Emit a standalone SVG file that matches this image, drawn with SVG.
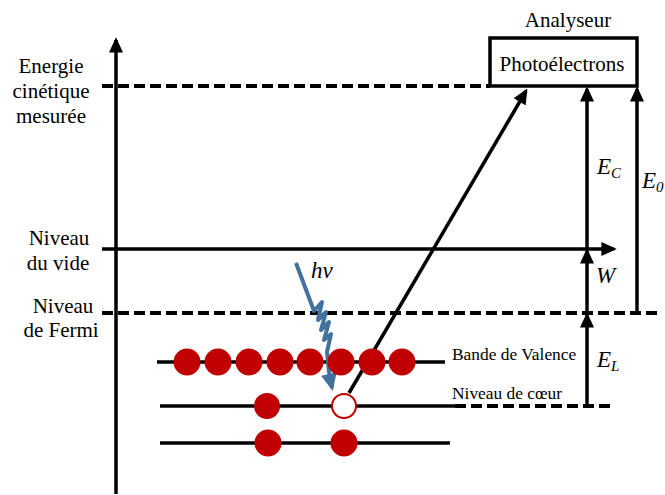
<svg xmlns="http://www.w3.org/2000/svg" width="665" height="495" viewBox="0 0 665 495">
<style>
text{font-family:"Liberation Serif","Times New Roman",serif;fill:#000}
.t{font-size:21px}
.s{font-size:17.4px}
.m{font-style:italic;font-size:23px}
.ms{font-size:15px}
.ln{stroke:#000;stroke-width:3.5;fill:none}
.da{stroke:#000;stroke-width:4;fill:none;stroke-dasharray:11 5}
.e{fill:#C00000}
</style>
<defs>
<marker id="ah" markerWidth="4.4" markerHeight="4" refX="3.6" refY="2" orient="auto" markerUnits="strokeWidth">
<path d="M0,0 L4.4,2 L0,4 z" fill="#000"/>
</marker>
<marker id="bh" markerWidth="4.4" markerHeight="4" refX="3.6" refY="2" orient="auto" markerUnits="strokeWidth">
<path d="M0,0 L4.4,2 L0,4 z" fill="#41719C"/>
</marker>
</defs>
<g id="levels">
<line class="da" x1="102" y1="86" x2="490" y2="86"/>
<line class="da" x1="102" y1="313" x2="658" y2="313"/>
<line class="ln" x1="157" y1="362" x2="445" y2="362"/>
<line class="ln" x1="160" y1="406" x2="455" y2="406"/>
<line class="da" x1="455" y1="406" x2="614" y2="406"/>
<line class="ln" x1="160" y1="443" x2="450" y2="443"/>
</g>
<g id="connectors">
<line class="ln" x1="116" y1="494" x2="116" y2="40" marker-end="url(#ah)"/>
<line class="ln" x1="102" y1="249" x2="614" y2="249" marker-end="url(#ah)"/>
<line class="ln" x1="349" y1="393" x2="526" y2="91" marker-end="url(#ah)"/>
<line class="ln" x1="587" y1="249" x2="587" y2="89" marker-end="url(#ah)"/>
<line class="ln" x1="587" y1="313" x2="587" y2="251" marker-end="url(#ah)"/>
<line class="ln" x1="587" y1="406" x2="587" y2="315" marker-end="url(#ah)"/>
<line class="ln" x1="637" y1="313" x2="637" y2="89" marker-end="url(#ah)"/>
<path d="M296,263 L314,311 L322,302 L318,320 L326,312 L321,330 L329,322 L324,340 L331,334 L327,352 Q328,370 332,388" stroke="#41719C" stroke-width="4" fill="none" stroke-linejoin="round" marker-end="url(#bh)"/>
</g>
<g id="analyseur">
<rect x="490" y="38" width="147" height="48" fill="#fff" stroke="#000" stroke-width="3.5"/>
<text class="t" x="562" y="71" text-anchor="middle">Photoélectrons</text>
<text class="t" x="568" y="27" text-anchor="middle">Analyseur</text>
</g>
<g id="electrons">
<circle class="e" cx="187" cy="362" r="13.5"/>
<circle class="e" cx="218" cy="362" r="13.5"/>
<circle class="e" cx="249" cy="362" r="13.5"/>
<circle class="e" cx="280" cy="362" r="13.5"/>
<circle class="e" cx="310" cy="362" r="13.5"/>
<circle class="e" cx="341" cy="362" r="13.5"/>
<circle class="e" cx="372" cy="362" r="13.5"/>
<circle class="e" cx="402" cy="362" r="13.5"/>
<circle class="e" cx="267" cy="406" r="13"/>
<circle cx="344" cy="406" r="12" fill="#fff" stroke="#C00000" stroke-width="2"/>
<circle class="e" cx="268" cy="443" r="13.5"/>
<circle class="e" cx="344" cy="443" r="13.5"/>
</g>
<g id="labels">
<text class="t" x="51" y="73" text-anchor="middle">Energie</text>
<text class="t" x="51" y="98" text-anchor="middle">cinétique</text>
<text class="t" x="51" y="123" text-anchor="middle">mesurée</text>
<text class="t" x="59" y="245" text-anchor="middle">Niveau</text>
<text class="t" x="58" y="270" text-anchor="middle">du vide</text>
<text class="t" x="63" y="313" text-anchor="middle">Niveau</text>
<text class="t" x="61" y="337" text-anchor="middle">de Fermi</text>
<text class="s" x="452" y="360">Bande de Valence</text>
<text class="s" x="452" y="399">Niveau de cœur</text>
<text class="m" x="311" y="278">hν</text>
<text class="m" x="597" y="174">E<tspan class="ms" dy="4">C</tspan></text>
<text class="m" x="642" y="188">E<tspan class="ms" dy="4">0</tspan></text>
<text class="m" x="596" y="283">W</text>
<text class="m" x="597" y="367">E<tspan class="ms" dy="4">L</tspan></text>
</g>
</svg>
